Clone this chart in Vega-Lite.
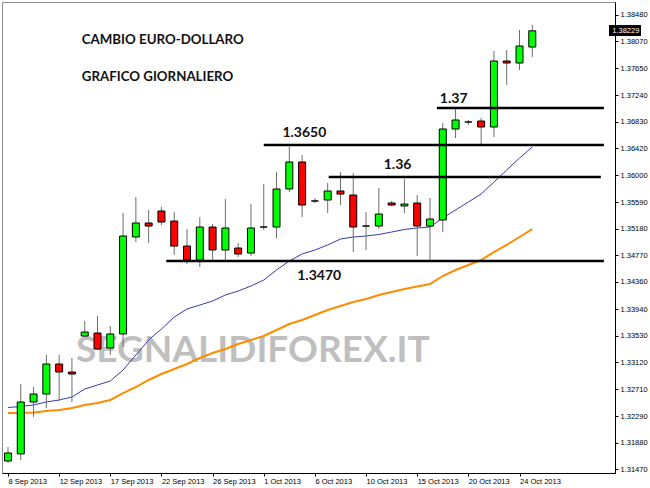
{
  "$schema": "https://vega.github.io/schema/vega-lite/v6.json",
  "width": 613,
  "height": 471,
  "autosize": {"type": "none"},
  "padding": {"left": 2, "top": 2, "right": 35, "bottom": 15},
  "background": "white",
  "config": {"view": {"stroke": "#8c8c8c", "strokeWidth": 1}},
  "datasets": {
    "candles": [
      {"i": 0, "o": 1.31601, "h": 1.31817, "l": 1.31570, "c": 1.31724, "f": 1.32425, "s": 1.32340},
      {"i": 1, "o": 1.31709, "h": 1.32787, "l": 1.31616, "c": 1.32510, "f": 1.32440, "s": 1.32340},
      {"i": 2, "o": 1.32510, "h": 1.32741, "l": 1.32279, "c": 1.32633, "f": 1.32464, "s": 1.32348},
      {"i": 3, "o": 1.32633, "h": 1.33234, "l": 1.32417, "c": 1.33095, "f": 1.32510, "s": 1.32371},
      {"i": 4, "o": 1.33095, "h": 1.33234, "l": 1.32525, "c": 1.32972, "f": 1.32541, "s": 1.32387},
      {"i": 5, "o": 1.32972, "h": 1.33188, "l": 1.32510, "c": 1.32941, "f": 1.32587, "s": 1.32417},
      {"i": 6, "o": 1.33527, "h": 1.33758, "l": 1.33511, "c": 1.33588, "f": 1.32710, "s": 1.32464},
      {"i": 7, "o": 1.33573, "h": 1.33835, "l": 1.33311, "c": 1.33326, "f": 1.32772, "s": 1.32494},
      {"i": 8, "o": 1.33342, "h": 1.33681, "l": 1.33234, "c": 1.33558, "f": 1.32833, "s": 1.32541},
      {"i": 9, "o": 1.33558, "h": 1.35422, "l": 1.33357, "c": 1.35067, "f": 1.33003, "s": 1.32648},
      {"i": 10, "o": 1.35052, "h": 1.35668, "l": 1.34975, "c": 1.35268, "f": 1.33234, "s": 1.32741},
      {"i": 11, "o": 1.35268, "h": 1.35468, "l": 1.34959, "c": 1.35221, "f": 1.33465, "s": 1.32849},
      {"i": 12, "o": 1.35453, "h": 1.35514, "l": 1.35237, "c": 1.35283, "f": 1.33635, "s": 1.32941},
      {"i": 13, "o": 1.35298, "h": 1.35437, "l": 1.34775, "c": 1.34913, "f": 1.33819, "s": 1.33018},
      {"i": 14, "o": 1.34913, "h": 1.35175, "l": 1.34636, "c": 1.34698, "f": 1.33943, "s": 1.33095},
      {"i": 15, "o": 1.34698, "h": 1.35360, "l": 1.34590, "c": 1.35206, "f": 1.34004, "s": 1.33188},
      {"i": 16, "o": 1.35206, "h": 1.35252, "l": 1.34698, "c": 1.34852, "f": 1.34066, "s": 1.33265},
      {"i": 17, "o": 1.34852, "h": 1.35637, "l": 1.34698, "c": 1.35191, "f": 1.34158, "s": 1.33326},
      {"i": 18, "o": 1.34882, "h": 1.34959, "l": 1.34744, "c": 1.34790, "f": 1.34220, "s": 1.33403},
      {"i": 19, "o": 1.34805, "h": 1.35560, "l": 1.34759, "c": 1.35191, "f": 1.34297, "s": 1.33465},
      {"i": 20, "o": 1.35206, "h": 1.35869, "l": 1.35160, "c": 1.35206, "f": 1.34389, "s": 1.33527},
      {"i": 21, "o": 1.35206, "h": 1.36053, "l": 1.35036, "c": 1.35792, "f": 1.34544, "s": 1.33619},
      {"i": 22, "o": 1.35792, "h": 1.36439, "l": 1.35745, "c": 1.36208, "f": 1.34682, "s": 1.33712},
      {"i": 23, "o": 1.36208, "h": 1.36315, "l": 1.35360, "c": 1.35545, "f": 1.34790, "s": 1.33773},
      {"i": 24, "o": 1.35607, "h": 1.35653, "l": 1.35576, "c": 1.35607, "f": 1.34852, "s": 1.33850},
      {"i": 25, "o": 1.35622, "h": 1.35884, "l": 1.35422, "c": 1.35761, "f": 1.34929, "s": 1.33927},
      {"i": 26, "o": 1.35761, "h": 1.36053, "l": 1.35545, "c": 1.35714, "f": 1.35021, "s": 1.33989},
      {"i": 27, "o": 1.35699, "h": 1.36038, "l": 1.34821, "c": 1.35206, "f": 1.35052, "s": 1.34050},
      {"i": 28, "o": 1.35221, "h": 1.35437, "l": 1.34852, "c": 1.35221, "f": 1.35067, "s": 1.34097},
      {"i": 29, "o": 1.35221, "h": 1.35807, "l": 1.35175, "c": 1.35406, "f": 1.35091, "s": 1.34158},
      {"i": 30, "o": 1.35576, "h": 1.35607, "l": 1.35530, "c": 1.35545, "f": 1.35129, "s": 1.34205},
      {"i": 31, "o": 1.35530, "h": 1.35946, "l": 1.35422, "c": 1.35560, "f": 1.35168, "s": 1.34251},
      {"i": 32, "o": 1.35576, "h": 1.35699, "l": 1.34759, "c": 1.35221, "f": 1.35191, "s": 1.34289},
      {"i": 33, "o": 1.35221, "h": 1.35653, "l": 1.34682, "c": 1.35329, "f": 1.35206, "s": 1.34328},
      {"i": 34, "o": 1.35314, "h": 1.36808, "l": 1.35129, "c": 1.36716, "f": 1.35345, "s": 1.34451},
      {"i": 35, "o": 1.36716, "h": 1.37024, "l": 1.36577, "c": 1.36855, "f": 1.35468, "s": 1.34544},
      {"i": 36, "o": 1.36824, "h": 1.36855, "l": 1.36778, "c": 1.36824, "f": 1.35591, "s": 1.34621},
      {"i": 37, "o": 1.36839, "h": 1.36885, "l": 1.36485, "c": 1.36747, "f": 1.35714, "s": 1.34698},
      {"i": 38, "o": 1.36747, "h": 1.37918, "l": 1.36593, "c": 1.37764, "f": 1.35899, "s": 1.34821},
      {"i": 39, "o": 1.37764, "h": 1.37933, "l": 1.37394, "c": 1.37733, "f": 1.36084, "s": 1.34929},
      {"i": 40, "o": 1.37733, "h": 1.38241, "l": 1.37625, "c": 1.37995, "f": 1.36269, "s": 1.35052},
      {"i": 41, "o": 1.37979, "h": 1.38318, "l": 1.37825, "c": 1.38229, "f": 1.36439, "s": 1.35175}
    ],
    "levels": [
      {"x1": 12.38, "x2": 46.6, "y": 1.34682},
      {"x1": 20.0, "x2": 46.6, "y": 1.36469},
      {"x1": 25.08, "x2": 46.36, "y": 1.35976},
      {"x1": 33.54, "x2": 46.6, "y": 1.37039}
    ],
    "titles": [
      {"t": "CAMBIO EURO-DOLLARO", "x": 5.77, "y": 1.38087},
      {"t": "GRAFICO GIORNALIERO", "x": 5.77, "y": 1.37525}
    ],
    "notes": [
      {"t": "1.3650", "x": 21.46, "y": 1.36654},
      {"t": "1.36", "x": 29.38, "y": 1.36161},
      {"t": "1.37", "x": 33.77, "y": 1.37186},
      {"t": "1.3470", "x": 22.62, "y": 1.34451}
    ],
    "watermark": [{"t": "SEGNALIDIFOREX.IT", "x": 19.15, "y": 1.33300}],
    "price": [{"t": "1.38229", "x1": 47.0, "x2": 49.5, "y1": 1.38149, "y2": 1.38318, "xt": 47.25, "yt": 1.38233}]
  },
  "layer": [
    {
      "data": {"name": "watermark"},
      "mark": {"type": "text", "font": "Lato", "fontWeight": "bold", "fontSize": 37, "color": "#bfbfbf", "align": "center", "baseline": "middle"},
      "encoding": {
        "x": {"field": "x", "type": "quantitative", "scale": {"domain": [-0.077, 47.077], "nice": false, "zero": false}, "title": null},
        "y": {"field": "y", "type": "quantitative", "scale": {"domain": [1.31416, 1.38673], "nice": false, "zero": false}, "title": null},
        "text": {"field": "t"}
      }
    },
    {
      "data": {"name": "candles"},
      "mark": {"type": "line", "color": "#ff8c00", "strokeWidth": 2},
      "encoding": {
        "x": {"field": "i", "type": "quantitative", "title": null},
        "y": {"field": "s", "type": "quantitative", "title": null}
      }
    },
    {
      "data": {"name": "candles"},
      "mark": {"type": "line", "color": "#3a3aa8", "strokeWidth": 1},
      "encoding": {
        "x": {"field": "i", "type": "quantitative", "title": null},
        "y": {"field": "f", "type": "quantitative", "title": null}
      }
    },
    {
      "data": {"name": "candles"},
      "mark": {"type": "rule", "color": "#6e6e6e", "strokeWidth": 1},
      "encoding": {
        "x": {"field": "i", "type": "quantitative", "title": null},
        "y": {"field": "l", "type": "quantitative", "title": null},
        "y2": {"field": "h"}
      }
    },
    {
      "data": {"name": "candles"},
      "mark": {"type": "bar", "size": 7, "stroke": "#000000", "strokeWidth": 1},
      "encoding": {
        "x": {
          "field": "i", "type": "quantitative", "title": null,
          "axis": {
            "orient": "bottom", "values": [0, 4, 8, 12, 16, 20, 24, 28, 32, 36, 40], "tickCount": 20,
            "labelExpr": "['8 Sep 2013','12 Sep 2013','17 Sep 2013','22 Sep 2013','26 Sep 2013','1 Oct 2013','6 Oct 2013','10 Oct 2013','15 Oct 2013','20 Oct 2013','24 Oct 2013'][round(datum.value/4)]",
            "labelAlign": "left", "labelBaseline": "top", "labelPadding": 1, "labelFlush": false, "labelOverlap": false, "labelBound": false,
            "labelFont": "Liberation Sans", "labelFontSize": 7.5, "labelColor": "#000000",
            "tickSize": 3, "tickColor": "#000000", "domainColor": "#000000", "grid": false, "title": null
          }
        },
        "y": {
          "field": "o", "type": "quantitative", "title": null,
          "axis": {
            "orient": "right", "tickCount": 30,
            "values": [1.3848, 1.3807, 1.3765, 1.3724, 1.3683, 1.3642, 1.36, 1.3559, 1.3518, 1.3477, 1.3436, 1.3394, 1.3353, 1.3312, 1.3271, 1.3229, 1.3188, 1.3147],
            "format": ".5f", "labelAlign": "left", "labelBaseline": "middle", "labelPadding": 2, "labelFlush": false, "labelOverlap": false,
            "labelFont": "Liberation Sans", "labelFontSize": 7.5, "labelColor": "#000000",
            "tickSize": 3, "tickColor": "#000000", "domainColor": "#000000", "grid": false, "title": null
          }
        },
        "y2": {"field": "c"},
        "color": {"condition": {"test": "datum.c > datum.o", "value": "#00ff00"}, "value": "#ff0000"}
      }
    },
    {
      "data": {"name": "levels"},
      "mark": {"type": "rule", "color": "#000000", "strokeWidth": 2.5},
      "encoding": {
        "x": {"field": "x1", "type": "quantitative", "title": null},
        "x2": {"field": "x2"},
        "y": {"field": "y", "type": "quantitative", "title": null}
      }
    },
    {
      "data": {"name": "titles"},
      "mark": {"type": "text", "font": "Lato", "fontWeight": "bold", "fontSize": 13.3, "color": "#111111", "align": "left", "baseline": "middle"},
      "encoding": {
        "x": {"field": "x", "type": "quantitative", "title": null},
        "y": {"field": "y", "type": "quantitative", "title": null},
        "text": {"field": "t"}
      }
    },
    {
      "data": {"name": "notes"},
      "mark": {"type": "text", "font": "Lato", "fontWeight": "bold", "fontSize": 14, "color": "#111111", "align": "left", "baseline": "middle"},
      "encoding": {
        "x": {"field": "x", "type": "quantitative", "title": null},
        "y": {"field": "y", "type": "quantitative", "title": null},
        "text": {"field": "t"}
      }
    },
    {
      "data": {"name": "price"},
      "mark": {"type": "rect", "color": "#000000"},
      "encoding": {
        "x": {"field": "x1", "type": "quantitative", "title": null},
        "x2": {"field": "x2"},
        "y": {"field": "y1", "type": "quantitative", "title": null},
        "y2": {"field": "y2"}
      }
    },
    {
      "data": {"name": "price"},
      "mark": {"type": "text", "font": "Liberation Sans", "fontSize": 7.5, "color": "#ffffff", "align": "left", "baseline": "middle"},
      "encoding": {
        "x": {"field": "xt", "type": "quantitative", "title": null},
        "y": {"field": "yt", "type": "quantitative", "title": null},
        "text": {"field": "t"}
      }
    }
  ]
}
